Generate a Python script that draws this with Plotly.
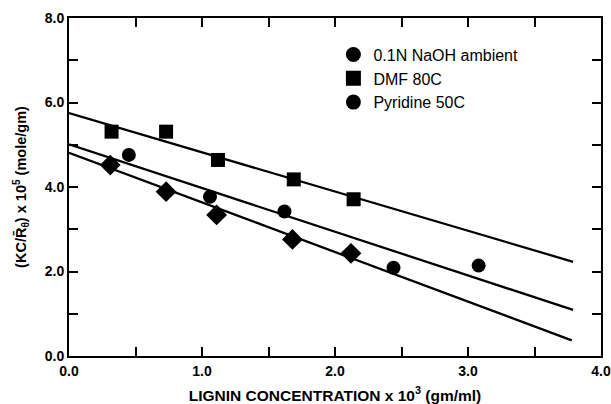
import plotly.graph_objects as go

# Data
naoh_x = [0.45, 1.06, 1.62, 2.44, 3.08]
naoh_y = [4.76, 3.77, 3.42, 2.09, 2.14]
dmf_x = [0.32, 0.73, 1.12, 1.69, 2.14]
dmf_y = [5.31, 5.31, 4.64, 4.18, 3.71]
pyr_x = [0.31, 0.73, 1.11, 1.68, 2.12]
pyr_y = [4.52, 3.89, 3.34, 2.76, 2.43]

# Fitted straight lines (value at x=0 and at end x)
fit_names = ["DMF fit", "NaOH fit", "Pyridine fit"]
fit_x_start = [0.0, 0.0, 0.0]
fit_x_end = [3.79, 3.79, 3.78]
fit_y_start = [5.75, 5.01, 4.81]
fit_y_end = [2.23, 1.09, 0.37]

legend_labels = ["0.1N NaOH ambient", "DMF 80C", "Pyridine 50C"]
legend_symbols = ["circle", "square", "circle"]

x_ticks = [0, 1, 2, 3, 4]
y_ticks = [0, 2, 4, 6, 8]

FONT = "Liberation Sans, Arial, Helvetica, sans-serif"

fig = go.Figure()

for name, xs, xe, ys, ye in zip(fit_names, fit_x_start, fit_x_end, fit_y_start, fit_y_end):
    fig.add_trace(go.Scatter(x=[xs, xe], y=[ys, ye], mode="lines",
                             line=dict(color="black", width=2.3),
                             showlegend=False, hoverinfo="skip", name=name))

fig.add_trace(go.Scatter(x=dmf_x, y=dmf_y, mode="markers", showlegend=False,
                         marker=dict(symbol="square", size=14, color="black"),
                         name="DMF 80C"))
fig.add_trace(go.Scatter(x=naoh_x, y=naoh_y, mode="markers", showlegend=False,
                         marker=dict(symbol="circle", size=14, color="black"),
                         name="0.1N NaOH ambient"))
fig.add_trace(go.Scatter(x=pyr_x, y=pyr_y, mode="markers", showlegend=False,
                         marker=dict(symbol="diamond", size=16, color="black"),
                         name="Pyridine 50C"))

for i, (lab, sym) in enumerate(zip(legend_labels, legend_symbols)):
    fig.add_trace(go.Scatter(x=[None], y=[None], mode="markers", name=lab,
                             legendgroup="g%d" % i,
                             marker=dict(symbol=sym, size=15, color="black")))

axis_common = dict(
    showline=True, linecolor="black", linewidth=2, mirror="ticks",
    ticks="inside", ticklen=9, tickwidth=1.5, tickcolor="black",
    showgrid=False, zeroline=False, tickformat=".1f", automargin=False,
    tickfont=dict(family=FONT, size=14, color="black", weight="bold"),
)

fig.update_layout(
    width=611, height=404,
    margin=dict(l=69, r=10, t=18, b=48),
    plot_bgcolor="white", paper_bgcolor="white",
    font=dict(family=FONT, color="black"),
    xaxis=dict(range=[0, 4], tickvals=x_ticks, ticklabelstandoff=1,
               minor=dict(dtick=0.5, ticks="inside", ticklen=9, tickwidth=1.5, tickcolor="black"),
               title=dict(text="LIGNIN CONCENTRATION x 10<sup>3</sup> (gm/ml)",
                          font=dict(family=FONT, size=15.5, color="black", weight="bold"),
                          standoff=12),
               **axis_common),
    yaxis=dict(range=[0, 8], tickvals=y_ticks,
               minor=dict(dtick=1, ticks="inside", ticklen=9, tickwidth=1.5, tickcolor="black"),
               title=dict(text="(KC/R\u0304<sub>\u03b8</sub>) x 10<sup>5</sup> (mole/gm)",
                          font=dict(family=FONT, size=14.5, color="black", weight="bold"),
                          standoff=15),
               **axis_common),
    legend=dict(x=0.497, y=0.942, xanchor="left", yanchor="top",
                font=dict(family=FONT, size=16, color="black"),
                bgcolor="rgba(0,0,0,0)", tracegroupgap=0, itemwidth=30),
)

fig.write_html("out.html", config={"displayModeBar": False},
               post_script="document.body.style.margin='0';")
